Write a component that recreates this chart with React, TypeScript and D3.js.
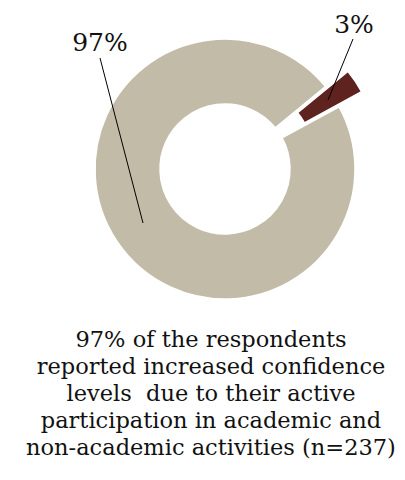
import React from "react";
import * as d3 from "d3";

const categories = ["Increased confidence", "Not increased"];
const values = [97, 3];
const labels = ["97%", "3%"];
const colors = ["#C2BBA8", "#5E221F"];
const captionLines = [
  "97% of the respondents",
  "reported increased confidence",
  "levels  due to their active",
  "participation in academic and",
  "non-academic activities (n=237)",
];

const W = 405;
const H = 480;
const cx = 225;
const cy = 169;
const outerR = 130;
const innerR = 65;
const startDeg = 61.4;
const explode = [0, 27];

export default function App() {
  const pie = d3
    .pie<number>()
    .sort(null)
    .startAngle((startDeg * Math.PI) / 180)
    .endAngle((startDeg * Math.PI) / 180 + 2 * Math.PI);
  const arcs = pie(values);
  const arc = d3.arc<d3.PieArcDatum<number>>().innerRadius(innerR).outerRadius(outerR);

  const labelPos = [
    { tx: 100, ty: 51, lx1: 100, ly1: 58, lx2: 143, ly2: 223 },
    { tx: 354, ty: 33, lx1: 353, ly1: 39, lx2: 328, ly2: 100 },
  ];

  return (
    <svg
      width={W}
      height={H}
      style={{ position: "absolute", left: 0, top: 0, background: "#fff" }}
    >
      <g transform={`translate(${cx},${cy})`}>
        {arcs.map((a, i) => {
          const mid = (a.startAngle + a.endAngle) / 2;
          const dx = Math.sin(mid) * explode[i];
          const dy = -Math.cos(mid) * explode[i];
          return (
            <path
              key={categories[i]}
              d={arc(a) || ""}
              transform={`translate(${dx},${dy})`}
              fill={colors[i]}
              stroke="#fff"
              strokeWidth={1.5}
            />
          );
        })}
      </g>
      {labels.map((t, i) => (
        <g key={t}>
          <line
            x1={labelPos[i].lx1}
            y1={labelPos[i].ly1}
            x2={labelPos[i].lx2}
            y2={labelPos[i].ly2}
            stroke="#000"
            strokeWidth={1}
          />
          <text
            x={labelPos[i].tx}
            y={labelPos[i].ty}
            textAnchor="middle"
            fontFamily="DejaVu Serif"
            fontSize={25}
            fill="#111"
          >
            {t}
          </text>
        </g>
      ))}
      {captionLines.map((l, i) => (
        <text
          key={i}
          x={211}
          y={347 + i * 27}
          textAnchor="middle"
          fontFamily="DejaVu Serif"
          fontSize={22.5}
          fill="#111"
          style={{ whiteSpace: "pre" }}
        >
          {l}
        </text>
      ))}
    </svg>
  );
}
